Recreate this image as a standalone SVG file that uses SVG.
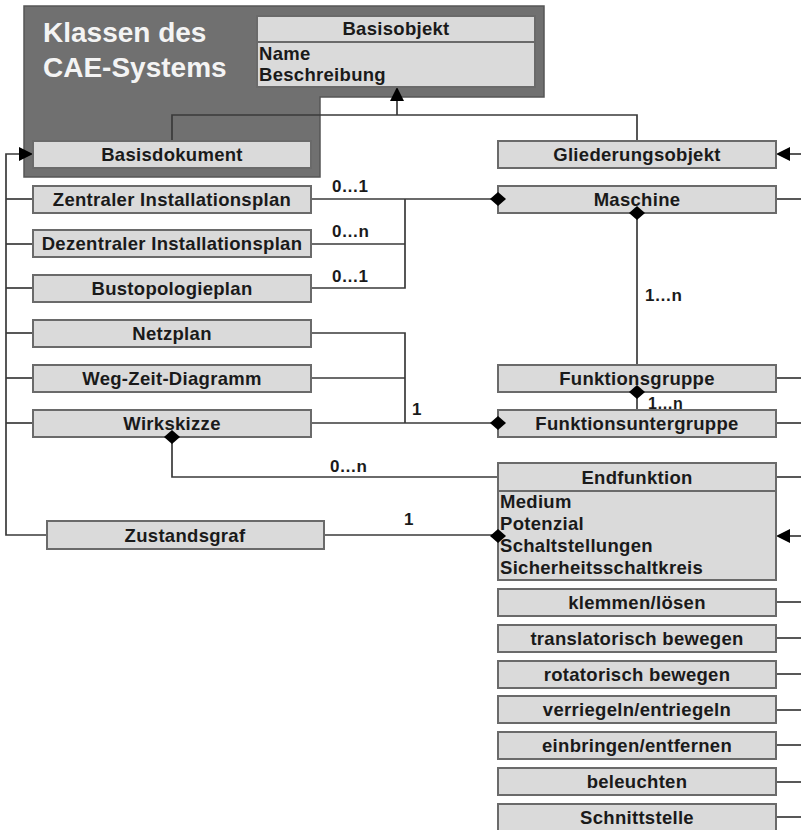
<svg xmlns="http://www.w3.org/2000/svg" width="801" height="830" viewBox="0 0 801 830">
  <defs>
    <style>
      .box { fill: #dadada; stroke: #6a6a6a; stroke-width: 2; }
      .lbl { font-family: "Liberation Sans", Arial, sans-serif; font-weight: bold; font-size: 18.5px; letter-spacing: 0.3px; fill: #1a1a1a; }
      .c { text-anchor: middle; }
      .mult { font-family: "Liberation Sans", Arial, sans-serif; font-weight: bold; font-size: 17px; fill: #1a1a1a; }
      .ln { fill: none; stroke: #3a3a3a; stroke-width: 1.7; }
      .head { fill: #000; }
      .title { font-family: "Liberation Sans", Arial, sans-serif; font-weight: bold; font-size: 28px; fill: #f4f4f4; }
    </style>
    <polygon id="dia" points="-8,0 0,-7 8,0 0,7" fill="#000"/>
  </defs>

  <rect width="801" height="830" fill="#ffffff"/>

  <!-- package panel -->
  <g id="panel">
    <polygon points="24,6 544,6 544,97 320,97 320,177 24,177" fill="#707070" stroke="#555" stroke-width="1.5"/>
    <text class="title" x="43" y="42">Klassen des</text>
    <text class="title" x="43" y="77">CAE-Systems</text>
  </g>

  <!-- connectors -->
  <g id="connectors">
    <!-- generalisation to Basisobjekt -->
    <polyline class="ln" points="172,141 172,115 637,115 637,141"/>
    <line class="ln" x1="397" y1="115" x2="397" y2="99"/>
    <polygon class="head" points="397,87 390,101 404,101"/>

    <!-- document hierarchy bus -->
    <polyline class="ln" points="47,535 6,535 6,154 20,154"/>
    <polygon class="head" points="33,154 19,147 19,161"/>
    <line class="ln" x1="6" y1="199" x2="33" y2="199"/>
    <line class="ln" x1="6" y1="244" x2="33" y2="244"/>
    <line class="ln" x1="6" y1="288" x2="33" y2="288"/>
    <line class="ln" x1="6" y1="333" x2="33" y2="333"/>
    <line class="ln" x1="6" y1="378" x2="33" y2="378"/>
    <line class="ln" x1="6" y1="423" x2="33" y2="423"/>

    <!-- plans to Maschine -->
    <line class="ln" x1="311" y1="199" x2="498" y2="199"/>
    <polyline class="ln" points="311,244 405,244"/>
    <polyline class="ln" points="311,288 405,288 405,199"/>

    <!-- diagrams to Funktionsuntergruppe -->
    <polyline class="ln" points="311,333 405,333 405,423"/>
    <line class="ln" x1="311" y1="378" x2="405" y2="378"/>
    <line class="ln" x1="311" y1="423" x2="498" y2="423"/>

    <!-- Maschine / Funktionsgruppe / Funktionsuntergruppe -->
    <line class="ln" x1="637" y1="213" x2="637" y2="365"/>
    <line class="ln" x1="637" y1="392" x2="637" y2="410"/>

    <!-- Wirkskizze to Endfunktion -->
    <polyline class="ln" points="172,437 172,477 498,477"/>
    <!-- Zustandsgraf to Endfunktion -->
    <line class="ln" x1="324" y1="535" x2="498" y2="535"/>

    <!-- right side stubs -->
    <line class="ln" x1="789" y1="154" x2="801" y2="154"/>
    <polygon class="head" points="776,154 790,147 790,161"/>
    <line class="ln" x1="789" y1="536" x2="801" y2="536"/>
    <polygon class="head" points="776,536 790,529 790,543"/>
    <line class="ln" x1="776" y1="199" x2="801" y2="199"/>
    <line class="ln" x1="776" y1="378" x2="801" y2="378"/>
    <line class="ln" x1="776" y1="423" x2="801" y2="423"/>
    <line class="ln" x1="776" y1="477" x2="801" y2="477"/>
    <line class="ln" x1="776" y1="602" x2="801" y2="602"/>
    <line class="ln" x1="776" y1="638" x2="801" y2="638"/>
    <line class="ln" x1="776" y1="674" x2="801" y2="674"/>
    <line class="ln" x1="776" y1="710" x2="801" y2="710"/>
    <line class="ln" x1="776" y1="745" x2="801" y2="745"/>
    <line class="ln" x1="776" y1="782" x2="801" y2="782"/>
    <line class="ln" x1="776" y1="817" x2="801" y2="817"/>

    <!-- multiplicities -->
    <text class="mult" x="332" y="192">0…1</text>
    <text class="mult" x="332" y="237">0…n</text>
    <text class="mult" x="332" y="282">0…1</text>
    <text class="mult" x="412" y="415">1</text>
    <text class="mult" x="645" y="301">1…n</text>
    <text class="mult" x="648" y="409" style="font-size:16px">1…n</text>
    <text class="mult" x="330" y="472">0…n</text>
    <text class="mult" x="404" y="525">1</text>
  </g>

  <!-- classes -->
  <g id="basisobjekt">
    <rect class="box" x="257" y="16" width="278" height="71"/>
    <line x1="257" y1="42" x2="535" y2="42" stroke="#6a6a6a" stroke-width="2"/>
    <text class="lbl c" x="396" y="35">Basisobjekt</text>
    <text class="lbl" x="259" y="60">Name</text>
    <text class="lbl" x="259" y="81">Beschreibung</text>
  </g>

  <g id="basisdokument">
    <rect class="box" x="33" y="141" width="278" height="27"/>
    <text class="lbl c" x="172" y="161">Basisdokument</text>
  </g>
  <g id="gliederungsobjekt">
    <rect class="box" x="498" y="141" width="278" height="27"/>
    <text class="lbl c" x="637" y="161">Gliederungsobjekt</text>
  </g>

  <g id="zentraler-installationsplan">
    <rect class="box" x="33" y="186" width="278" height="27"/>
    <text class="lbl c" x="172" y="206">Zentraler Installationsplan</text>
  </g>
  <g id="dezentraler-installationsplan">
    <rect class="box" x="33" y="230" width="278" height="27"/>
    <text class="lbl c" x="172" y="250">Dezentraler Installationsplan</text>
  </g>
  <g id="bustopologieplan">
    <rect class="box" x="33" y="275" width="278" height="27"/>
    <text class="lbl c" x="172" y="295">Bustopologieplan</text>
  </g>
  <g id="netzplan">
    <rect class="box" x="33" y="320" width="278" height="27"/>
    <text class="lbl c" x="172" y="340">Netzplan</text>
  </g>
  <g id="weg-zeit-diagramm">
    <rect class="box" x="33" y="365" width="278" height="27"/>
    <text class="lbl c" x="172" y="385">Weg-Zeit-Diagramm</text>
  </g>
  <g id="wirkskizze">
    <rect class="box" x="33" y="410" width="278" height="27"/>
    <text class="lbl c" x="172" y="430">Wirkskizze</text>
  </g>
  <g id="zustandsgraf">
    <rect class="box" x="47" y="521" width="277" height="28"/>
    <text class="lbl c" x="185" y="542">Zustandsgraf</text>
  </g>

  <g id="maschine">
    <rect class="box" x="498" y="186" width="278" height="27"/>
    <text class="lbl c" x="637" y="206">Maschine</text>
  </g>
  <g id="funktionsgruppe">
    <rect class="box" x="498" y="365" width="278" height="27"/>
    <text class="lbl c" x="637" y="385">Funktionsgruppe</text>
  </g>
  <g id="funktionsuntergruppe">
    <rect class="box" x="498" y="410" width="278" height="27"/>
    <text class="lbl c" x="637" y="430">Funktionsuntergruppe</text>
  </g>
  <g id="endfunktion">
    <rect class="box" x="498" y="463" width="278" height="117"/>
    <line x1="498" y1="491" x2="776" y2="491" stroke="#6a6a6a" stroke-width="2"/>
    <text class="lbl c" x="637" y="484">Endfunktion</text>
    <text class="lbl" x="500" y="508">Medium</text>
    <text class="lbl" x="500" y="530">Potenzial</text>
    <text class="lbl" x="500" y="552">Schaltstellungen</text>
    <text class="lbl" x="500" y="574">Sicherheitsschaltkreis</text>
  </g>

  <g id="klemmen-loesen">
    <rect class="box" x="498" y="589" width="278" height="27"/>
    <text class="lbl c" x="637" y="609">klemmen/lösen</text>
  </g>
  <g id="translatorisch-bewegen">
    <rect class="box" x="498" y="625" width="278" height="27"/>
    <text class="lbl c" x="637" y="645">translatorisch bewegen</text>
  </g>
  <g id="rotatorisch-bewegen">
    <rect class="box" x="498" y="661" width="278" height="27"/>
    <text class="lbl c" x="637" y="681">rotatorisch bewegen</text>
  </g>
  <g id="verriegeln-entriegeln">
    <rect class="box" x="498" y="696" width="278" height="27"/>
    <text class="lbl c" x="637" y="716">verriegeln/entriegeln</text>
  </g>
  <g id="einbringen-entfernen">
    <rect class="box" x="498" y="732" width="278" height="27"/>
    <text class="lbl c" x="637" y="752">einbringen/entfernen</text>
  </g>
  <g id="beleuchten">
    <rect class="box" x="498" y="768" width="278" height="27"/>
    <text class="lbl c" x="637" y="788">beleuchten</text>
  </g>
  <g id="schnittstelle">
    <rect class="box" x="498" y="804" width="278" height="27"/>
    <text class="lbl c" x="637" y="824">Schnittstelle</text>
  </g>

  <!-- composition diamonds -->
  <g id="diamonds">
    <use href="#dia" x="498" y="199"/>
    <use href="#dia" x="637" y="213"/>
    <use href="#dia" x="637" y="392"/>
    <use href="#dia" x="498" y="423"/>
    <use href="#dia" x="172" y="437"/>
    <use href="#dia" x="498" y="536"/>
  </g>
</svg>
